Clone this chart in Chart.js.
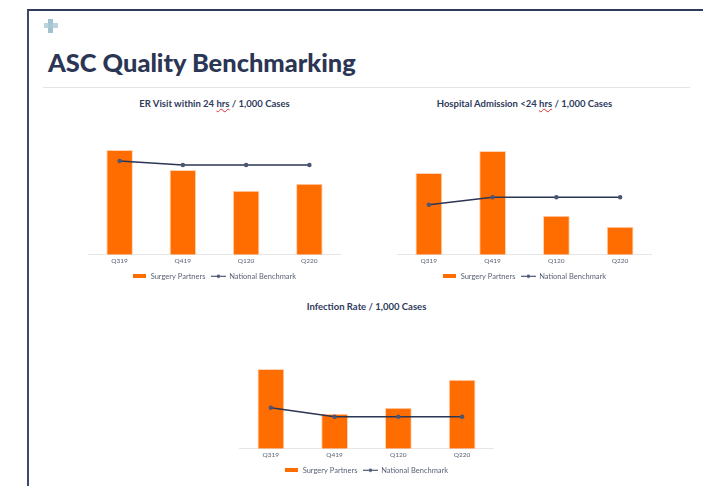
<!DOCTYPE html>
<html>
<head>
<meta charset="utf-8">
<title>ASC Quality Benchmarking</title>
<script src="https://cdn.jsdelivr.net/npm/chart.js@4"></script>
<style>
  html, body { margin: 0; padding: 0; background: #fff; overflow: hidden; }
  body { width: 703px; height: 486px; position: relative; font-family: Lato, sans-serif; color: #2b3554; }
  .frame { position: absolute; left: 27px; top: 9px; width: 700px; height: 500px; border-top: 2px solid #2f3b5c; border-left: 2px solid #3d4a6e; }
  .cross-v { position: absolute; left: 48px; top: 19px; width: 5px; height: 14px; background: #8db4c5; opacity: .8; filter: blur(.5px); }
  .cross-h { position: absolute; left: 44px; top: 23px; width: 14px; height: 5px; background: #a9c9d6; opacity: .8; filter: blur(.5px); }
  h1 { position: absolute; left: 48px; top: 46px; margin: 0; font-size: 25.4px; line-height: 32px; font-weight: 900; white-space: nowrap; }
  .rule { position: absolute; left: 43px; top: 87px; width: 647px; height: 1px; background: #e4e4e4; }
  .ctitle { position: absolute; width: 303px; text-align: center; font-size: 9.5px; line-height: 12px; font-weight: 700; color: #2f3b5c; white-space: nowrap; }
  .ctitle u { text-decoration: underline wavy #d33; text-decoration-thickness: 0.6px; }
  canvas.c { position: absolute; }
</style>
</head>
<body>
<div class="frame"></div>
<div class="cross-v"></div>
<div class="cross-h"></div>
<h1>ASC Quality Benchmarking</h1>
<div class="rule"></div>

<div class="ctitle" style="left:63px;top:98px">ER Visit within 24 <u>hrs</u> / 1,000 Cases</div>
<div class="ctitle" style="left:373px;top:98px">Hospital Admission &lt;24 <u>hrs</u> / 1,000 Cases</div>
<div class="ctitle" style="left:215px;top:301px">Infection Rate / 1,000 Cases</div>

<canvas class="c" id="erChart" width="253" height="165" style="left:88px;top:125px"></canvas>
<canvas class="c" id="admitChart" width="255" height="165" style="left:397px;top:125px"></canvas>
<canvas class="c" id="infectChart" width="255" height="165" style="left:239px;top:319px"></canvas>

<script>
// ===== DATA =====
const quarters = ['Q319', 'Q419', 'Q120', 'Q220'];
const erPartners = [105, 85, 64, 71];
const erBenchmark = [94, 90, 90, 90];
const admitPartners = [82, 104, 39, 28];
const admitBenchmark = [50, 57.5, 57.5, 57.5];
const infectPartners = [80, 35, 41, 69];
const infectBenchmark = [41, 32, 32, 32];

const ORANGE = '#ff6d00', NAVY = '#2b3554';

// legend icons
function barIcon() {
  const c = document.createElement('canvas'); c.width = 13; c.height = 4;
  const x = c.getContext('2d'); x.fillStyle = ORANGE; x.fillRect(0, 0, 13, 4);
  return c;
}
function lineIcon() {
  const c = document.createElement('canvas'); c.width = 15; c.height = 5;
  const x = c.getContext('2d'); x.fillStyle = NAVY; x.fillRect(0, 2, 15, 1);
  x.fillStyle = '#4a5674'; x.beginPath(); x.arc(7.5, 2.5, 1.8, 0, Math.PI * 2); x.fill();
  return c;
}

function makeChart(id, partners, benchmark) {
  return new Chart(document.getElementById(id), {
    data: {
      labels: quarters,
      datasets: [
        { type: 'bar', label: 'Surgery Partners', data: partners, backgroundColor: ORANGE, borderColor: '#ffd3b3',
          borderWidth: { left: 1, right: 1, top: 1, bottom: 0 }, barPercentage: 1, categoryPercentage: 0.42, order: 2 },
        { type: 'line', label: 'National Benchmark', data: benchmark, borderColor: NAVY, borderWidth: 1.5, tension: 0,
          pointRadius: 1.5, pointBackgroundColor: '#4a5674', pointBorderColor: '#4a5674', order: 1 }
      ]
    },
    options: {
      responsive: false,
      animation: false,
      layout: { padding: 0, autoPadding: false },
      scales: {
        x: { grid: { display: false, drawTicks: false }, border: { color: '#e6e6e6' },
             ticks: { color: '#5a6275', font: { family: 'Lato', size: 6.5 }, padding: 2, maxRotation: 0 } },
        y: { display: false, min: 0, max: 130 }
      },
      plugins: {
        tooltip: { enabled: false },
        legend: {
          position: 'bottom',
          labels: {
            usePointStyle: true, pointStyleWidth: 14, boxHeight: 5, padding: 6, color: '#5a6275',
            font: { family: 'Lato', size: 7.5 },
            generateLabels: chart => chart.data.datasets.map((ds, i) => ({
              text: ds.label, datasetIndex: i, fontColor: '#5a6275', lineWidth: 0,
              pointStyle: i === 0 ? barIcon() : lineIcon()
            }))
          }
        }
      }
    }
  });
}

makeChart('erChart', erPartners, erBenchmark);
makeChart('admitChart', admitPartners, admitBenchmark);
makeChart('infectChart', infectPartners, infectBenchmark);
</script>
</body>
</html>
